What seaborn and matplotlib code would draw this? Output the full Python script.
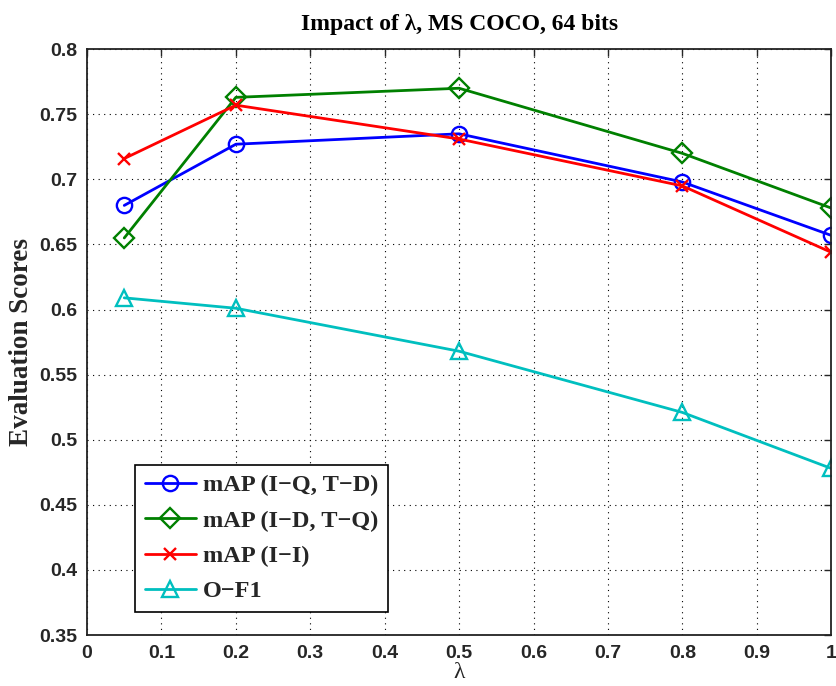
import matplotlib
matplotlib.use("Agg")
import matplotlib.pyplot as plt
import seaborn as sns
import pandas as pd

lam = [0.05, 0.2, 0.5, 0.8, 1.0]
map_iq_td = [0.680, 0.727, 0.735, 0.698, 0.657]
map_id_tq = [0.655, 0.763, 0.770, 0.720, 0.678]
map_ii = [0.716, 0.757, 0.731, 0.695, 0.644]
o_f1 = [0.609, 0.601, 0.568, 0.521, 0.478]

labels = ["mAP (I\u2212Q, T\u2212D)", "mAP (I\u2212D, T\u2212Q)", "mAP (I\u2212I)", "O\u2212F1"]
series = [map_iq_td, map_id_tq, map_ii, o_f1]
colors = ["#0000ff", "#008000", "#ff0000", "#00bfbf"]
markers = ["o", "D", "x", "^"]
msizes = [11, 10, 8, 12]

sns.set_style("white")
plt.rcParams["font.family"] = ["Liberation Sans", "DejaVu Sans"]
serif = ["Liberation Serif", "DejaVu Serif"]

fig = plt.figure(figsize=(8.37, 6.86), dpi=100)
ax = fig.add_axes([0.104, 0.0743, 0.889, 0.854])

for vals, lab, c, m, ms in zip(series, labels, colors, markers, msizes):
    df = pd.DataFrame({"x": lam, "y": vals})
    sns.lineplot(data=df, x="x", y="y", ax=ax, color=c, marker=m, markersize=ms,
                 markerfacecolor="none", markeredgecolor=c, markeredgewidth=1.7,
                 linewidth=2, label=lab)

ax.set_xlim(0, 1)
ax.set_ylim(0.35, 0.8)
ax.set_xticks([i / 10 for i in range(11)])
ax.set_xticklabels(["0", "0.1", "0.2", "0.3", "0.4", "0.5", "0.6", "0.7", "0.8", "0.9", "1"])
ax.set_yticks([0.35 + 0.05 * i for i in range(10)])
ax.set_yticklabels(["0.35", "0.4", "0.45", "0.5", "0.55", "0.6", "0.65", "0.7", "0.75", "0.8"])
for t in ax.get_xticklabels() + ax.get_yticklabels():
    t.set_fontweight("bold")
    t.set_fontsize(14)
ax.tick_params(direction="in", top=True, right=True, length=5, width=1, pad=7)
ax.grid(True, linestyle=(0, (1, 4)), color="black", linewidth=0.8)
for s in ax.spines.values():
    s.set_linewidth(1.3)
    s.set_color("#222222")

ax.set_title("Impact of \u03bb, MS COCO, 64 bits", family=serif,
             fontweight="bold", fontsize=17, pad=14, color="black")
ax.set_xlabel("\u03bb", family=serif, fontsize=17, labelpad=0)
ax.set_ylabel("Evaluation Scores", family=serif,
              fontweight="bold", fontsize=19.5, labelpad=4)

leg = ax.legend(loc="lower left", bbox_to_anchor=(0.0645, 0.039), borderaxespad=0,
                prop={"family": serif, "weight": "bold", "size": 17.5},
                frameon=True, fancybox=False, edgecolor="black", framealpha=1,
                handlelength=2.1, borderpad=0.4, labelspacing=0.55, handletextpad=0.3)
leg.get_frame().set_linewidth(1.2)

fig.savefig("out.png", dpi=100)
